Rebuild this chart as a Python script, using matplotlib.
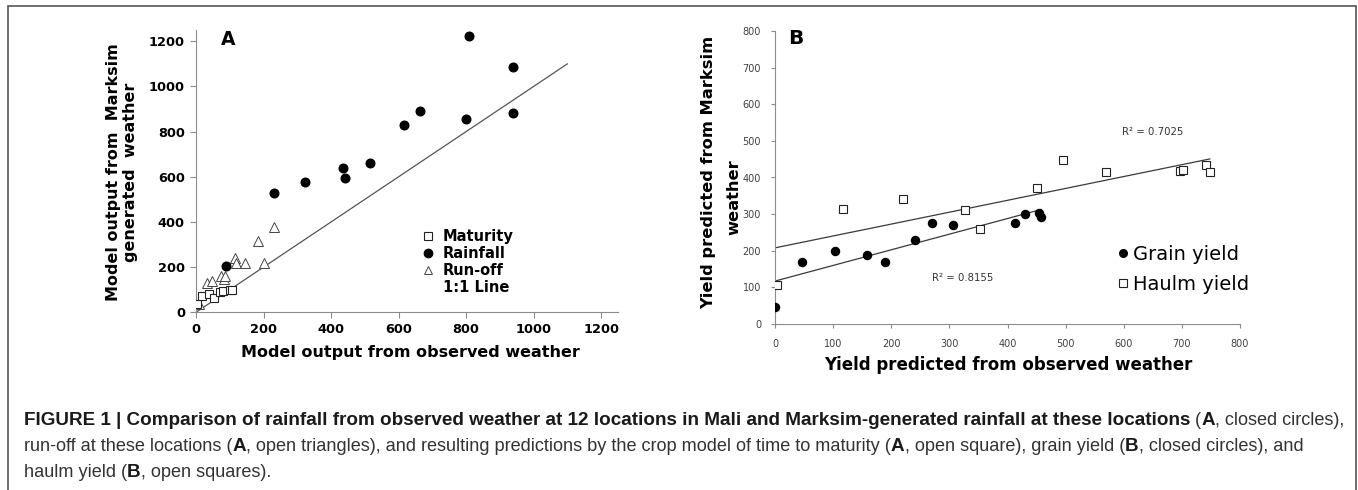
import matplotlib
matplotlib.use('Agg')
import matplotlib.pyplot as plt
from matplotlib.lines import Line2D
from matplotlib.patches import Rectangle
import numpy as np

# Panel A: model output from observed weather (x) vs Marksim weather (y)
maturity_obs = [2, 18, 38, 52, 70, 80, 100, 106]
maturity_sim = [36, 73, 79, 62, 90, 95, 99, 100]
rain_obs = [89, 230, 322, 436, 441, 514, 617, 664, 799, 809, 940, 940]
rain_sim = [206, 530, 576, 638, 594, 661, 828, 891, 855, 1224, 1088, 881]
runoff_obs = [10, 32, 47, 75, 83, 87, 115, 118, 146, 184, 200, 231]
runoff_sim = [35, 130, 139, 161, 146, 161, 239, 217, 217, 314, 217, 376]
one_to_one = [0, 1100]
a_ticks = [0, 200, 400, 600, 800, 1000, 1200]

# Panel B: yield predicted from observed (x) vs Marksim weather (y)
grain_obs = [0, 47, 104, 159, 189, 240, 270, 307, 413, 430, 455, 458]
grain_sim = [46, 168, 200, 189, 170, 229, 277, 269, 277, 299, 302, 292]
haulm_obs = [4, 117, 221, 327, 352, 450, 496, 569, 697, 702, 741, 748]
haulm_sim = [106, 314, 340, 311, 260, 372, 449, 414, 418, 421, 434, 416]
b_ticks = [0, 100, 200, 300, 400, 500, 600, 700, 800]

W, H = 1358, 490
fig = plt.figure(figsize=(W / 100, H / 100), dpi=100)

def fx(px):
    return px / W

def fy(py):
    return 1 - py / H

# outer frame
fig.add_artist(Rectangle((fx(8), fy(500)), fx(1356) - fx(8), fy(6) - fy(500),
                         transform=fig.transFigure, fill=False,
                         edgecolor='#555555', linewidth=1.2))

spine_col = '#8c8c8c'

# ---------------- Panel A ----------------
axA = fig.add_axes([fx(196), fy(312.3), fx(618) - fx(196), fy(30) - fy(312.3)])
axA.plot(one_to_one, one_to_one, color='#555555', lw=0.9, zorder=1)
axA.plot(maturity_obs, maturity_sim, ls='none', marker='s', ms=6,
         mfc='white', mec='#222222', mew=0.8, zorder=3)
axA.plot(rain_obs, rain_sim, ls='none', marker='o', ms=6.2,
         mfc='black', mec='black', zorder=3)
axA.plot(runoff_obs, runoff_sim, ls='none', marker='^', ms=6.5,
         mfc='white', mec='#444444', mew=0.7, zorder=2)
axA.set_xlim(0, 1250)
axA.set_ylim(0, 1250)
axA.set_xticks(a_ticks)
axA.set_yticks(a_ticks)
for s in ['top', 'right']:
    axA.spines[s].set_visible(False)
for s in ['left', 'bottom']:
    axA.spines[s].set_color(spine_col)
axA.tick_params(length=4, color=spine_col, width=0.8, pad=4)
for lab in axA.get_xticklabels() + axA.get_yticklabels():
    lab.set_fontweight('bold')
    lab.set_fontsize(9.3)
axA.text(0.076, 0.965, 'A', transform=axA.transAxes, ha='center', va='center',
         fontsize=13.5, fontweight='bold')

handlesA = [
    Line2D([], [], ls='none', marker='s', ms=5.5, mfc='white', mec='#222222', mew=0.8),
    Line2D([], [], ls='none', marker='o', ms=6, mfc='black', mec='black'),
    Line2D([], [], ls='none', marker='^', ms=5.5, mfc='white', mec='#444444', mew=0.7),
    Line2D([], [], ls='none'),
]
axA.legend(handlesA, ['Maturity', 'Rainfall', 'Run-off', '1:1 Line'],
           loc='upper left', bbox_to_anchor=(0.537, 0.294), frameon=False,
           prop=dict(weight='bold', size=10.5), labelspacing=0.13,
           handlelength=0.8, handletextpad=0.6, borderpad=0, borderaxespad=0)

fig.text(fx(122), fy(172), 'Model output from  Marksim\ngenerated  weather',
         rotation=90, ha='center', va='center', multialignment='center',
         fontsize=11.5, fontweight='bold', linespacing=1.1)
fig.text(fx(410), fy(352), 'Model output from observed weather',
         ha='center', va='center', fontsize=11.5, fontweight='bold')

# ---------------- Panel B ----------------
axB = fig.add_axes([fx(775), fy(324), fx(1240) - fx(775), fy(31) - fy(324)])
for xs, ys in [(grain_obs, grain_sim), (haulm_obs, haulm_sim)]:
    k, b = np.polyfit(xs, ys, 1)
    xl = np.array([0, max(xs)])
    axB.plot(xl, k * xl + b, color='#3a3a3a', lw=0.9, zorder=1)
axB.plot(grain_obs, grain_sim, ls='none', marker='o', ms=5.8,
         mfc='black', mec='black', zorder=3)
axB.plot(haulm_obs, haulm_sim, ls='none', marker='s', ms=6,
         mfc='white', mec='#222222', mew=0.8, zorder=3)
axB.set_xlim(0, 800)
axB.set_ylim(0, 800)
axB.set_xticks(b_ticks)
axB.set_yticks(b_ticks)
for s in ['top', 'right']:
    axB.spines[s].set_visible(False)
for s in ['left', 'bottom']:
    axB.spines[s].set_color(spine_col)
axB.tick_params(length=3, color=spine_col, width=0.8,
                labelsize=7, labelcolor='#404040')
axB.tick_params(axis='x', pad=8)
axB.tick_params(axis='y', pad=7)
axB.text(0.045, 0.973, 'B', transform=axB.transAxes, ha='center', va='center',
         fontsize=14.5, fontweight='bold')
axB.text(649, 523, 'R² = 0.7025', ha='center', va='center', fontsize=7.3,
         color='#333333')
axB.text(323, 125, 'R² = 0.8155', ha='center', va='center', fontsize=7.3,
         color='#333333')

handlesB = [
    Line2D([], [], ls='none', marker='o', ms=5.5, mfc='black', mec='black'),
    Line2D([], [], ls='none', marker='s', ms=5.5, mfc='white', mec='#222222', mew=0.8),
]
axB.legend(handlesB, ['Grain yield', 'Haulm yield'], loc='upper left',
           bbox_to_anchor=(0.735, 0.27), frameon=False, prop=dict(size=14),
           labelspacing=0.58, handlelength=0.6, handletextpad=0.26,
           borderpad=0, borderaxespad=0)

fig.text(fx(709), fy(172), 'Yield predicted from Marksim', rotation=90,
         ha='center', va='center', fontsize=11.7, fontweight='bold')
fig.text(fx(734), fy(197), 'weather', rotation=90,
         ha='center', va='center', fontsize=11.7, fontweight='bold')
fig.text(fx(1008), fy(365), 'Yield predicted from observed weather',
         ha='center', va='center', fontsize=12, fontweight='bold')

# ---------------- Caption ----------------
cap_font = 'Liberation Sans'
caption = [
    (429, [('FIGURE 1 | Comparison of rainfall from observed weather at 12 locations '
            'in Mali and Marksim-generated rainfall at these locations', True),
           (' (', False), ('A', True), (', closed circles),', False)]),
    (455, [('run-off at these locations (', False), ('A', True),
           (', open triangles), and resulting predictions by the crop model of time '
            'to maturity (', False), ('A', True), (', open square), grain yield (', False),
           ('B', True), (', closed circles), and', False)]),
    (481, [('haulm yield (', False), ('B', True), (', open squares).', False)]),
]
for y_px, parts in caption:
    prev = None
    for txt, bold in parts:
        kw = dict(fontsize=13.6 if bold else 13.1, family=cap_font,
                  fontweight='bold' if bold else 'normal',
                  color='#1a1a1a' if bold else '#333333')
        if prev is None:
            prev = fig.text(fx(24), fy(y_px), txt, ha='left', va='bottom', **kw)
        else:
            prev = axA.annotate(txt, xy=(1, 0), xycoords=prev, ha='left',
                                va='bottom', annotation_clip=False, **kw)

fig.savefig('out.png', dpi=100)
